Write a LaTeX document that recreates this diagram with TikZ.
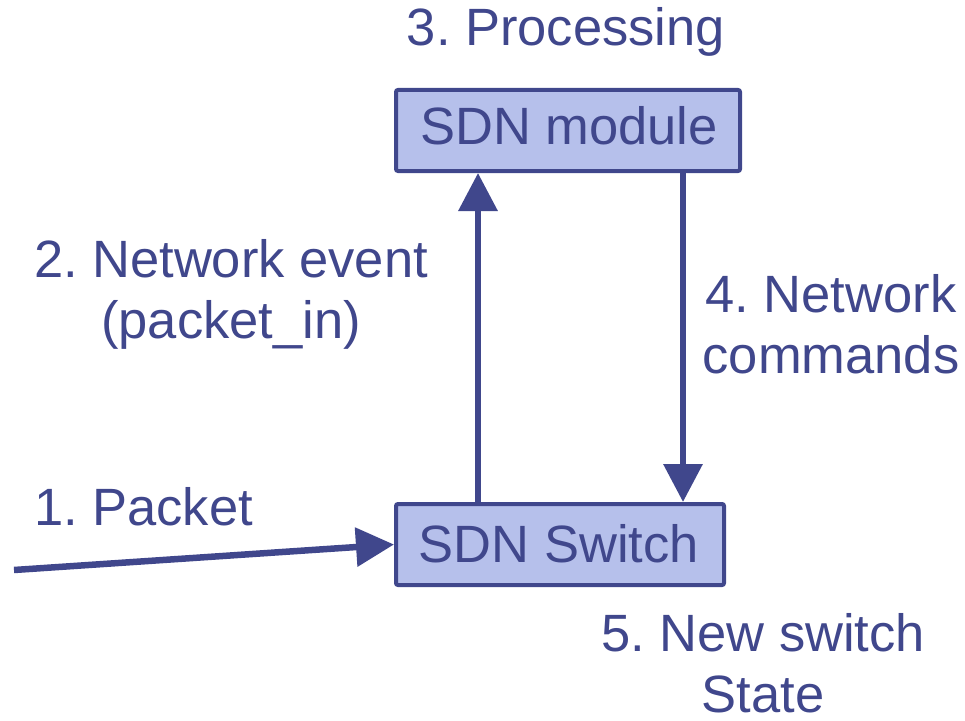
\documentclass[tikz,border=0pt]{standalone}
\usepackage{fontspec}
\setmainfont{Liberation Sans}
\usepackage{tikz}
\usetikzlibrary{arrows.meta}
\definecolor{navy}{RGB}{64,71,140}
\definecolor{boxfill}{RGB}{182,192,235}
\frenchspacing
\begin{document}
\begin{tikzpicture}[x=1bp,y=-1bp,inner sep=0pt,navy,
        font=\fontsize{52.5bp}{61bp}\selectfont,
        box/.style={draw=navy,fill=boxfill,line width=4bp,rounded corners=2bp,minimum height=81bp},
        arr/.style={line width=6.5bp,-{Triangle[width=38bp,length=38bp]}},
        lbl/.style={anchor=base,align=center,text=navy}]
\useasboundingbox (0,0) rectangle (965,721);
\draw (568,130.5) node[box,minimum width=344bp](module) {};
\draw (569,145) node[lbl](moduletxt) {SDN module};
\draw (560,544.5) node[box,minimum width=328bp](switch) {};
\draw (559,562) node[lbl](switchtxt) {SDN Switch};
\coordinate (upx) at (478,0);
\coordinate (downx) at (683,0);
\coordinate (src) at (14,570);
\draw[arr] (switch.north -| upx) -- (module.south -| upx);
\draw[arr] (module.south -| downx) -- (switch.north -| downx);
\draw[arr] (src) -- (switch.west);
% labels (base = last line for two-line labels)
\draw (143.5,525) node[lbl](step1) {1. Packet};
\draw (231,338) node[lbl](step2) {2. Network event\\(packet\_in)};
\draw (566,46) node[lbl](step3) {3. Processing};
\draw (831,373) node[lbl](step4) {4. Network\\commands};
\draw (763,712) node[lbl](step5) {5. New switch\\State};
    \end{tikzpicture}
\end{document}
